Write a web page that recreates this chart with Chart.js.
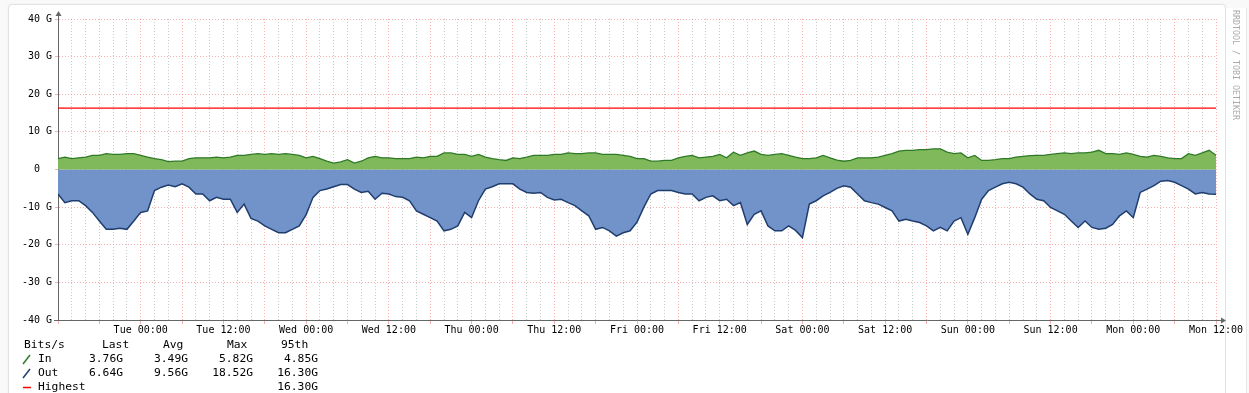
<!DOCTYPE html>
<html>
<head>
<meta charset="utf-8">
<script src="https://cdn.jsdelivr.net/npm/chart.js@4.4.1/dist/chart.umd.min.js"></script>
<style>
    html, body { margin: 0; padding: 0; width: 1249px; height: 393px; overflow: hidden; background: #f9f9f9; }
    .card { position: absolute; left: 8px; top: 4px; width: 1216px; height: 420px; background: #fff; border: 1px solid #e2e2e2; border-radius: 4px; box-shadow: 0 0 3px rgba(0,0,0,0.05); }
    .side { position: absolute; left: 1226px; top: 8px; width: 20px; height: 400px; background: #fff; border-right: 1px solid #e6e6e6; }
    #chart { position: absolute; left: 0; top: 0; }
    .lg { position: absolute; font-family: "DejaVu Sans Mono", monospace; font-size: 11.3px; line-height: 14px; color: #000; white-space: pre; }
    .credit { position: absolute; left: 1231px; top: 10px; writing-mode: vertical-rl; font-family: "DejaVu Sans Mono", monospace; font-size: 8.3px; color: #aaa; white-space: pre; }
</style>
</head>
<body>
<div class="card"></div>
<div class="side"></div>
<canvas id="chart" width="1249" height="340"></canvas>
<div class="credit">RRDTOOL / TOBI OETIKER</div>
<div id="legend"></div>
<script>
// one value per hour, Mon 12:00 -> Mon 12:00 (168 h)
const inBits = [2.9, 3.3, 2.9, 3.1, 3.3, 3.75, 3.75, 4.2, 4, 4, 4.2, 4.2, 3.75, 3.3, 2.9, 2.6, 2.1, 2.2, 2.2, 2.9,
    3.1, 3.1, 3.1, 3.3, 3.1, 3.3, 3.75, 3.75, 4, 4.2, 4, 4.2, 4, 4.2, 4, 3.75, 3.1, 3.5, 2.9, 2.2,
    1.7, 2, 2.6, 1.7, 2.2, 3.1, 3.5, 3.1, 3.1, 2.9, 2.9, 2.9, 3.3, 3.1, 3.5, 3.5, 4.4, 4.4, 4, 4,
    3.5, 4, 3.3, 2.9, 2.6, 2.4, 3.1, 2.9, 3.3, 3.75, 3.75, 3.75, 4, 4, 4.4, 4.2, 4.2, 4.4, 4.4, 4,
    4, 4, 3.75, 3.5, 2.9, 2.9, 2.2, 2.2, 2.4, 2.4, 3.1, 3.5, 3.75, 3.1, 3.3, 3.5, 4, 3.1, 4.6, 3.75,
    4.4, 4.9, 4, 3.75, 4, 4.2, 3.75, 3.3, 2.9, 2.9, 3.1, 3.75, 3.1, 2.5, 2.2, 2.4, 3.1, 3.1, 3.1, 3.3,
    3.75, 4.2, 4.9, 5.1, 5.1, 5.3, 5.3, 5.5, 5.5, 4.6, 4.2, 4.4, 3.1, 3.75, 2.4, 2.4, 2.6, 2.9, 2.9, 3.3,
    3.5, 3.7, 3.75, 3.75, 4, 4.2, 4.4, 4.2, 4.4, 4.4, 4.6, 5.1, 4.2, 4.2, 4, 4.4, 4, 3.5, 3.3, 3.75,
    3.5, 3.1, 2.9, 2.9, 4.2, 3.75, 4.4, 5.1, 3.8];

const outBits = [6.5, 8.8, 8.3, 8.3, 9.6, 11.4, 13.7, 15.9, 15.9, 15.6, 15.9, 13.7, 11.4, 11, 5.6, 4.7, 4.1, 4.6, 3.8, 4.7,
    6.5, 6.5, 8.3, 7.4, 7.9, 7.9, 11.4, 9.2, 13, 13.7, 15, 15.9, 16.8, 16.8, 15.9, 15, 12, 7.4, 5.6, 5.2,
    4.6, 4.0, 4.0, 5.2, 6.1, 5.8, 7.9, 6.3, 6.5, 7.2, 7.4, 8.3, 11, 11.9, 12.8, 13.7, 16.3, 15.9, 15, 11.4,
    12.8, 8.3, 5.2, 4.6, 3.8, 3.8, 3.8, 5.2, 6.1, 6.3, 6.1, 7.4, 8.1, 7.9, 8.8, 9.6, 11, 12.3, 15.9, 15.4,
    16.3, 17.7, 16.8, 16.3, 14, 10, 6.5, 5.6, 5.6, 5.6, 6.1, 6.5, 6.5, 8.3, 7.4, 7, 8.3, 7.9, 9.6, 8.8,
    14.6, 11.9, 11, 15, 16.3, 16.3, 15, 16.2, 18.1, 9.2, 8.3, 7, 6.1, 5, 4.3, 4.7, 6.5, 8.3, 8.8, 9.2,
    10.1, 11, 13.7, 13.2, 13.7, 14.1, 15, 16.3, 15.4, 16.3, 13.7, 12.8, 17.2, 12.8, 7.9, 5.6, 4.7, 3.8, 3.4, 3.8,
    4.7, 6.5, 7.9, 8.3, 10.1, 11, 11.9, 13.7, 15.4, 13.7, 15.4, 15.9, 15.6, 14.6, 12.3, 11, 12.8, 6.1, 5.2, 4.3,
    3.1, 2.9, 3.4, 4.3, 5.2, 6.5, 6.1, 6.5, 6.6];

const highest = 16.3;

const tickLabels = ['Tue 00:00', 'Tue 12:00', 'Wed 00:00', 'Wed 12:00', 'Thu 00:00', 'Thu 12:00', 'Fri 00:00',
    'Fri 12:00', 'Sat 00:00', 'Sat 12:00', 'Sun 00:00', 'Sun 12:00', 'Mon 00:00', 'Mon 12:00'];

const statHeads = ['Last', 'Avg', 'Max', '95th'];
const inStats = ['3.76G', '3.49G', '5.82G', '4.85G'];
const outStats = ['6.64G', '9.56G', '18.52G', '16.30G'];
const highestStat = '16.30G';

const MAJOR = 'rgba(240, 110, 110, 0.55)';
const MINOR = 'rgba(150, 150, 150, 0.5)';

// arrows at the end of both axes
const axisArrows = {
    id: 'axisArrows',
    afterDraw(chart) {
        const ctx = chart.ctx;
        const a = chart.chartArea;
        const x0 = Math.round(a.left) + 0.5;
        const y0 = Math.round(a.bottom) + 0.5;
        ctx.save();
        ctx.strokeStyle = '#666';
        ctx.fillStyle = '#666';
        ctx.lineWidth = 1;
        ctx.beginPath();
        ctx.moveTo(x0, a.top);
        ctx.lineTo(x0, a.top - 4);
        ctx.moveTo(a.left - 4, y0);
        ctx.lineTo(a.left, y0);
        ctx.moveTo(a.right, y0);
        ctx.lineTo(a.right + 5, y0);
        ctx.stroke();
        ctx.beginPath();
        ctx.moveTo(x0, a.top - 8);
        ctx.lineTo(x0 - 3, a.top - 3);
        ctx.lineTo(x0 + 3, a.top - 3);
        ctx.closePath();
        ctx.fill();
        ctx.beginPath();
        ctx.moveTo(a.right + 10, y0);
        ctx.lineTo(a.right + 5, y0 - 3);
        ctx.lineTo(a.right + 5, y0 + 3);
        ctx.closePath();
        ctx.fill();
        ctx.restore();
    }
};

const ctx = document.getElementById('chart').getContext('2d');
new Chart(ctx, {
    type: 'line',
    data: {
        datasets: [{
            label: 'In',
            data: inBits.map((v, i) => ({ x: i, y: v })),
            borderColor: '#2f7a27',
            backgroundColor: '#80b95b',
            borderWidth: 1.3,
            fill: 'origin',
            pointRadius: 0,
            tension: 0
        }, {
            label: 'Out',
            data: outBits.map((v, i) => ({ x: i, y: -v })),
            borderColor: '#1f3d6e',
            backgroundColor: '#7193c9',
            borderWidth: 1.5,
            fill: 'origin',
            pointRadius: 0,
            tension: 0
        }, {
            label: 'Highest',
            data: [{ x: 0, y: highest }, { x: 168, y: highest }],
            borderColor: '#ff0000',
            borderWidth: 1.3,
            fill: false,
            pointRadius: 0
        }]
    },
    options: {
        responsive: false,
        animation: false,
        layout: { padding: { top: 19, right: 33, left: 0, bottom: 0 } },
        plugins: {
            legend: { display: false },
            tooltip: { enabled: false }
        },
        scales: {
            x: {
                type: 'linear',
                min: 0,
                max: 168,
                z: 1,
                afterFit: s => { s.height = 20; },
                border: { color: '#666', width: 1, dash: [1, 2] },
                grid: {
                    color: c => c.tick.value % 6 === 0 ? MAJOR : MINOR,
                    tickColor: c => c.tick.value % 6 === 0 ? MAJOR : 'rgba(0,0,0,0)',
                    tickLength: 4,
                    lineWidth: 1
                },
                ticks: {
                    stepSize: 2,
                    autoSkip: false,
                    maxTicksLimit: 200,
                    maxRotation: 0,
                    padding: 0,
                    color: '#000',
                    font: { family: 'DejaVu Sans Mono', size: 10 },
                    callback: v => (v > 0 && v % 12 === 0) ? tickLabels[v / 12 - 1] : ''
                }
            },
            y: {
                min: -40,
                max: 40,
                z: 1,
                afterFit: s => { s.width = 58; },
                border: { color: '#666', width: 1, dash: [1, 2] },
                grid: {
                    color: MAJOR,
                    tickColor: MAJOR,
                    tickLength: 3,
                    lineWidth: 1
                },
                ticks: {
                    stepSize: 10,
                    padding: 3,
                    color: '#000',
                    font: { family: 'DejaVu Sans Mono', size: 10 },
                    callback: v => v === 0 ? '0  ' : v + ' G'
                }
            }
        }
    },
    plugins: [axisArrows]
});

// legend block under the graph
const legend = document.getElementById('legend');
function addText(text, left, cy, right) {
    const d = document.createElement('div');
    d.className = 'lg';
    d.textContent = text;
    d.style.top = (cy - 7) + 'px';
    if (right !== undefined) {
        d.style.left = (right - 60) + 'px';
        d.style.width = '60px';
        d.style.textAlign = 'right';
    } else {
        d.style.left = left + 'px';
    }
    legend.appendChild(d);
}
function addIcon(color, cy, slash) {
    const s = document.createElementNS('http://www.w3.org/2000/svg', 'svg');
    s.setAttribute('width', '10');
    s.setAttribute('height', '12');
    s.style.position = 'absolute';
    s.style.left = '22px';
    s.style.top = (cy - 6) + 'px';
    const l = document.createElementNS('http://www.w3.org/2000/svg', 'line');
    if (slash) {
        l.setAttribute('x1', '1'); l.setAttribute('y1', '11');
        l.setAttribute('x2', '8'); l.setAttribute('y2', '2');
    } else {
        l.setAttribute('x1', '1'); l.setAttribute('y1', '6.5');
        l.setAttribute('x2', '9'); l.setAttribute('y2', '6.5');
    }
    l.setAttribute('stroke', color);
    l.setAttribute('stroke-width', '1.5');
    s.appendChild(l);
    legend.appendChild(s);
}

const headLeft = [102, 163, 227, 281];
const colRight = [123, 188, 253, 318];
addText('Bits/s', 24, 345);
statHeads.forEach((h, i) => addText(h, headLeft[i], 345));
addIcon('#2f7a27', 359, true);
addText('In', 38, 359);
inStats.forEach((v, i) => addText(v, 0, 359, colRight[i]));
addIcon('#1f3d6e', 373, true);
addText('Out', 38, 373);
outStats.forEach((v, i) => addText(v, 0, 373, colRight[i]));
addIcon('#ff0000', 387, false);
addText('Highest', 38, 387);
addText(highestStat, 0, 387, colRight[3]);
</script>
</body>
</html>
